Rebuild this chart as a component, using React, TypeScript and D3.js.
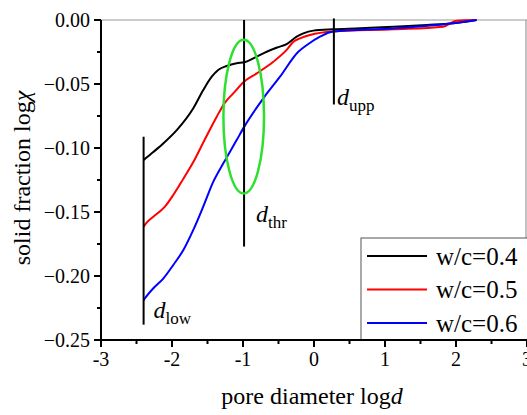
import React from "react";
import * as d3 from "d3";

const W = 527;
const H = 415;

// Series data (log d, log chi)
const xBlack = [-2.4, -2.26, -2.12, -1.93, -1.7, -1.56, -1.44, -1.35, -1.23, -1.09, -0.98, -0.855, -0.666, -0.52, -0.385, -0.244, -0.15, -0.01, 0.27, 0.65, 1.12, 1.59, 1.96, 2.29];
const yBlack = [-0.1094, -0.103, -0.0963, -0.0859, -0.069, -0.0547, -0.0443, -0.039, -0.0359, -0.0338, -0.033, -0.03, -0.0248, -0.0215, -0.0188, -0.013, -0.0104, -0.0083, -0.0073, -0.0065, -0.0052, -0.0039, -0.0026, 0];

const xRed = [-2.4, -2.36, -2.263, -2.1, -1.98, -1.84, -1.7, -1.535, -1.37, -1.254, -1.137, -0.982, -0.807, -0.573, -0.385, -0.29, -0.197, -0.056, 0.27, 1.12, 1.82, 2.01, 2.29];
const yRed = [-0.1615, -0.1585, -0.1537, -0.1458, -0.1365, -0.124, -0.111, -0.093, -0.0755, -0.0645, -0.0573, -0.048, -0.0417, -0.0326, -0.0234, -0.017, -0.0143, -0.0117, -0.009, -0.0073, -0.0052, -0.0005, 0];

const xBlue = [-2.4, -2.38, -2.263, -2.12, -1.982, -1.84, -1.7, -1.56, -1.418, -1.277, -1.089, -0.982, -0.714, -0.479, -0.221, -0.1, 0.085, 0.27, 1.12, 1.96, 2.29];
const yBlue = [-0.219, -0.2174, -0.2096, -0.2018, -0.1914, -0.1797, -0.164, -0.1458, -0.1263, -0.112, -0.0938, -0.0833, -0.0612, -0.0443, -0.0248, -0.0195, -0.013, -0.009, -0.0066, -0.0026, 0];

const seriesNames = ["w/c=0.4", "w/c=0.5", "w/c=0.6"];
const seriesColors = ["#000000", "#ff0000", "#0000ff"];

const xTicks = [-3, -2, -1, 0, 1, 2, 3];
const xMinorTicks = [-2.5, -1.5, -0.5, 0.5, 1.5, 2.5];
const yTicks = [0, -0.05, -0.1, -0.15, -0.2, -0.25];
const yMinorTicks = [-0.025, -0.075, -0.125, -0.175, -0.225];

// Marker lines: x, yTop, yBottom, label subscript
const markerX = [-2.4, -0.985, 0.28];
const markerTop = [-0.0912, 0, 0.0012];
const markerBottom = [-0.238, -0.177, -0.066];
const markerSub = ["low", "thr", "upp"];

// Green ellipse (data units)
const ellipseCx = -0.99;
const ellipseCy = -0.0755;
const ellipseRx = 0.286;
const ellipseRy = 0.06;

const FONT = "'Liberation Serif', 'Times New Roman', serif";

export default function App() {
  const x = d3.scaleLinear().domain([-3, 3]).range([101, 527]);
  const y = d3.scaleLinear().domain([-0.25, 0]).range([340, 20]);
  const line = d3
    .line<[number, number]>()
    .x((d) => x(d[0]))
    .y((d) => y(d[1]))
    .curve(d3.curveMonotoneX);

  const series = [
    xBlack.map((v, i) => [v, yBlack[i]] as [number, number]),
    xRed.map((v, i) => [v, yRed[i]] as [number, number]),
    xBlue.map((v, i) => [v, yBlue[i]] as [number, number]),
  ];

  const labelOffsets = [
    { dx: 10, y: 318 },
    { dx: 12, y: 222 },
    { dx: 3, y: 105 },
  ];

  const ex = x(ellipseCx);
  const ey = y(ellipseCy);
  const erx = x(ellipseCx + ellipseRx) - x(ellipseCx);
  const ery = y(ellipseCy - ellipseRy) - y(ellipseCy);

  return (
    <svg
      width={W}
      height={H}
      style={{ position: "absolute", left: 0, top: 0, background: "#fff" }}
      fontFamily={FONT}
    >
      <rect x={0} y={0} width={W} height={H} fill="#fff" />
      {/* top and right frame */}
      <line x1={x(-3)} x2={x(3)} y1={y(0)} y2={y(0)} stroke="#999" strokeWidth={1.2} />
      <line x1={x(3) - 1} x2={x(3) - 1} y1={y(0)} y2={y(-0.25)} stroke="#999" strokeWidth={1.2} />

      {/* series */}
      {series.map((s, i) => (
        <path key={i} d={line(s) || ""} fill="none" stroke={seriesColors[i]} strokeWidth={2} />
      ))}

      {/* marker lines */}
      {markerX.map((mx, i) => (
        <g key={i}>
          <line
            x1={x(mx)}
            x2={x(mx)}
            y1={y(markerTop[i])}
            y2={y(markerBottom[i])}
            stroke="#000"
            strokeWidth={2}
          />
          <text x={x(mx) + labelOffsets[i].dx} y={labelOffsets[i].y} fontSize={24}>
            <tspan fontStyle="italic">d</tspan>
            <tspan fontSize={17} dy={6}>
              {markerSub[i]}
            </tspan>
          </text>
        </g>
      ))}

      {/* green ellipse */}
      <ellipse cx={ex} cy={ey} rx={erx} ry={ery} fill="none" stroke="#2ee02e" strokeWidth={2.5} />

      {/* legend */}
      <rect x={361} y={238} width={170} height={102} fill="#fff" stroke="#555" strokeWidth={1} />
      {seriesNames.map((n, i) => {
        const ly = 256 + i * 33.5;
        return (
          <g key={n}>
            <line x1={367} x2={427} y1={ly} y2={ly} stroke={seriesColors[i]} strokeWidth={2} />
            <text x={436} y={ly + 8.5} fontSize={25}>
              {n}
            </text>
          </g>
        );
      })}

      {/* bottom axis */}
      <line x1={x(-3) - 1} x2={x(3)} y1={y(-0.25)} y2={y(-0.25)} stroke="#000" strokeWidth={2} />
      {xTicks.map((t) => (
        <g key={t}>
          <line x1={x(t)} x2={x(t)} y1={y(-0.25)} y2={y(-0.25) + 7} stroke="#000" strokeWidth={2} />
          <text x={x(t)} y={366} fontSize={20} textAnchor="middle">
            {t}
          </text>
        </g>
      ))}
      {xMinorTicks.map((t) => (
        <line key={t} x1={x(t)} x2={x(t)} y1={y(-0.25)} y2={y(-0.25) + 4} stroke="#000" strokeWidth={2} />
      ))}

      {/* left axis */}
      <line x1={x(-3)} x2={x(-3)} y1={y(0)} y2={y(-0.25) + 1} stroke="#000" strokeWidth={2} />
      {yTicks.map((t) => (
        <g key={t}>
          <line x1={x(-3) - 7} x2={x(-3)} y1={y(t)} y2={y(t)} stroke="#000" strokeWidth={2} />
          <text x={90} y={y(t) + 7} fontSize={20} textAnchor="end">
            {d3.format(".2f")(t)}
          </text>
        </g>
      ))}
      {yMinorTicks.map((t) => (
        <line key={t} x1={x(-3) - 4} x2={x(-3)} y1={y(t)} y2={y(t)} stroke="#000" strokeWidth={2} />
      ))}

      {/* axis titles */}
      <text x={312} y={404} fontSize={24} textAnchor="middle">
        pore diameter log<tspan fontStyle="italic">d</tspan>
      </text>
      <text transform="translate(30,178) rotate(-90)" fontSize={24} textAnchor="middle">
        solid fraction log<tspan fontStyle="italic">χ</tspan>
      </text>
    </svg>
  );
}
